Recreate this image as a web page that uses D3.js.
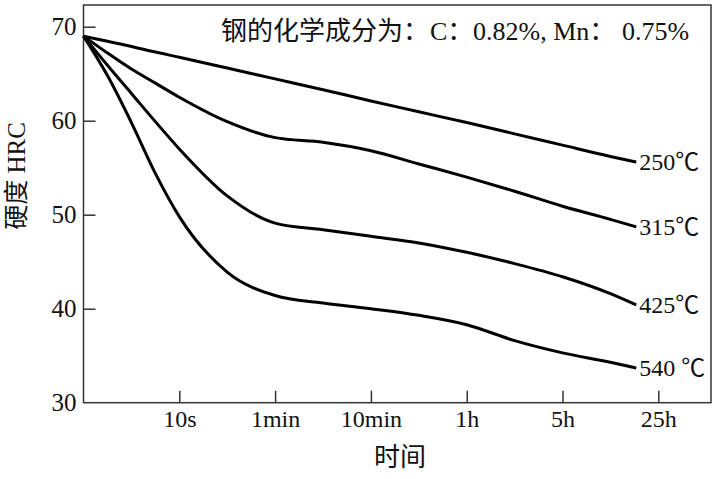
<!DOCTYPE html>
<html>
<head>
<meta charset="utf-8">
<script src="https://cdn.jsdelivr.net/npm/d3@7"></script>
<style>
  body { margin: 0; background: #fff; }
  svg text { font-family: "Liberation Serif", "Noto Sans CJK SC", serif; fill: #111; }
</style>
</head>
<body>
<svg id="chart" width="714" height="479"></svg>
<script>
// tick labels on the log-like time axis, evenly spaced
const timeTicks = ['10s', '1min', '10min', '1h', '5h', '25h'];
const timePos = [1, 2, 3, 4, 5, 6];
const hrcTicks = [40, 50, 60, 70];

// sample positions along the time axis (0 = start, 1 = 10s, ... 6 = 25h)
const samplePos = [0, 0.25, 0.5, 0.75, 1, 1.5, 2, 2.5, 3, 3.5, 4, 4.5, 5, 5.5, 5.77];

const temps = ['250℃', '315℃', '425℃', '540 ℃'];
const hrc250 = [69, 68.45, 67.9, 67.3, 66.75, 65.6, 64.45, 63.3, 62.1, 60.95, 59.8, 58.6, 57.4, 56.2, 55.6];
const hrc315 = [69, 67.2, 65.5, 64.0, 62.5, 59.9, 58.2, 57.7, 56.8, 55.4, 54.0, 52.5, 50.9, 49.5, 48.7];
const hrc425 = [69, 65.9, 62.9, 59.9, 57.0, 52.0, 49.1, 48.4, 47.7, 47.0, 46.0, 44.8, 43.4, 41.6, 40.4];
const hrc540 = [69, 64.8, 59.8, 54.4, 49.8, 43.9, 41.4, 40.6, 40.0, 39.3, 38.3, 36.6, 35.3, 34.3, 33.7];

// annotation pieces: composition note
const noteParts = ['钢的化学成分为：', 'C：', '0.82%, Mn：', '0.75%'];

const series = [hrc250, hrc315, hrc425, hrc540].map((vals, i) => ({
  name: temps[i],
  points: vals.map((v, j) => ({ x: samplePos[j], y: v }))
}));

const svg = d3.select('#chart');
const frame = { left: 83.5, right: 711, top: 5, bottom: 402.7 };

const x = d3.scaleLinear().domain([0, 6.55]).range([frame.left, frame.right]);
const y = d3.scaleLinear().domain([30, 70]).range([frame.bottom, 26.7]);

// frame box
svg.append('rect')
  .attr('x', frame.left).attr('y', frame.top)
  .attr('width', frame.right - frame.left)
  .attr('height', frame.bottom - frame.top)
  .attr('fill', 'none')
  .attr('stroke', '#333')
  .attr('stroke-width', 1.5);

// y axis, ticks point inward
const yAxis = svg.append('g')
  .attr('transform', `translate(${frame.left},0)`)
  .call(d3.axisLeft(y).tickValues([30].concat(hrcTicks)).tickSize(-12).tickPadding(7));
yAxis.select('.domain').remove();
yAxis.selectAll('.tick line').attr('stroke', '#333').attr('stroke-width', 1.5)
  .filter(d => d === 30).remove();
yAxis.selectAll('.tick text').attr('font-size', 25).attr('fill', '#111');

// x axis
const xAxis = svg.append('g')
  .attr('transform', `translate(0,${frame.bottom})`)
  .call(d3.axisBottom(x).tickValues(timePos).tickFormat((d, i) => timeTicks[i]).tickSize(-12).tickPadding(7));
xAxis.select('.domain').remove();
xAxis.selectAll('.tick line').attr('stroke', '#333').attr('stroke-width', 1.5);
xAxis.selectAll('.tick text').attr('font-size', 24).attr('fill', '#111');

// curves
const line = d3.line()
  .x(d => x(d.x))
  .y(d => y(d.y))
  .curve(d3.curveMonotoneX);

svg.selectAll('.curve')
  .data(series)
  .enter().append('path')
  .attr('class', 'curve')
  .attr('d', d => line(d.points))
  .attr('fill', 'none')
  .attr('stroke', '#000')
  .attr('stroke-width', 3);

svg.selectAll('.curve-label')
  .data(series)
  .enter().append('text')
  .attr('class', 'curve-label')
  .attr('x', d => x(d.points[d.points.length - 1].x) + 3)
  .attr('y', d => y(d.points[d.points.length - 1].y))
  .attr('dy', '0.35em')
  .attr('font-size', 24)
  .text(d => d.name);

// annotation, pieces spaced like the original
const noteX = [221, 430, 473, 622];
svg.append('text')
  .attr('y', 40)
  .attr('font-size', 26)
  .selectAll('tspan')
  .data(noteParts)
  .enter().append('tspan')
  .attr('x', (d, i) => noteX[i])
  .text(d => d);

// axis titles
svg.append('text')
  .attr('transform', 'translate(25,176) rotate(-90)')
  .attr('text-anchor', 'middle')
  .attr('font-size', 25)
  .text('硬度 HRC');

svg.append('text')
  .attr('x', 400).attr('y', 466)
  .attr('text-anchor', 'middle')
  .attr('font-size', 26)
  .text('时间');
</script>
</body>
</html>
